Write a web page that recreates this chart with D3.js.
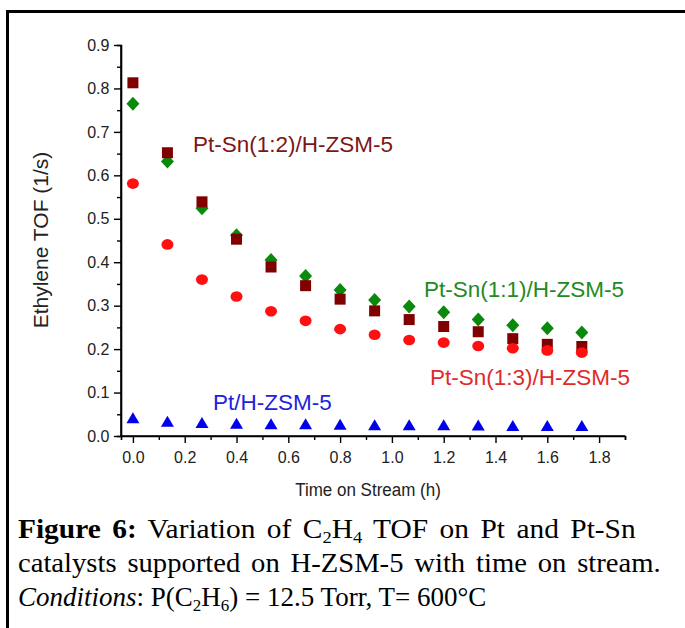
<!DOCTYPE html>
<html><head><meta charset="utf-8">
<script src="https://cdn.jsdelivr.net/npm/d3@7"></script>
<style>body{margin:0;background:#fff}</style>
</head><body>
<script>
const times = [0, 0.1333, 0.2667, 0.4, 0.5333, 0.6667, 0.8, 0.9333, 1.0667, 1.2, 1.3333, 1.4667, 1.6, 1.7333];
const ptSn12 = [0.813, 0.652, 0.539, 0.453, 0.389, 0.346, 0.315, 0.288, 0.268, 0.252, 0.240, 0.224, 0.211, 0.206];
const ptSn11 = [0.765, 0.632, 0.524, 0.462, 0.405, 0.368, 0.336, 0.313, 0.298, 0.285, 0.268, 0.255, 0.248, 0.238];
const ptSn13 = [0.581, 0.441, 0.360, 0.321, 0.287, 0.265, 0.246, 0.233, 0.221, 0.215, 0.207, 0.202, 0.197, 0.192];
const ptOnly = [0.041, 0.033, 0.030, 0.028, 0.027, 0.027, 0.026, 0.025, 0.025, 0.025, 0.024, 0.023, 0.023, 0.023];
const xTicks = [0, 0.2, 0.4, 0.6, 0.8, 1.0, 1.2, 1.4, 1.6, 1.8];
const yTicks = [0, 0.1, 0.2, 0.3, 0.4, 0.5, 0.6, 0.7, 0.8, 0.9];
const seriesNames = ["Pt-Sn(1:2)/H-ZSM-5", "Pt-Sn(1:1)/H-ZSM-5", "Pt-Sn(1:3)/H-ZSM-5", "Pt/H-ZSM-5"];

const W = 685, H = 628;
const svg = d3.select("body").append("svg").attr("width", W).attr("height", H);

svg.append("rect").attr("x", 7.5).attr("y", 11.5).attr("width", 720).attr("height", 700)
  .attr("fill", "none").attr("stroke", "#000").attr("stroke-width", 3);

const x = d3.scaleLinear().domain([-0.046, 1.9]).range([121, 625]);
const y = d3.scaleLinear().domain([0, 0.9]).range([436, 45]);

const font = "Arial, 'Liberation Sans', sans-serif";

// axes
const xAxisMinor = d3.axisBottom(x).tickValues(d3.range(0.1, 1.95, 0.2)).tickSize(4).tickFormat("");
const xAxis = d3.axisBottom(x).tickValues(xTicks).tickSize(7).tickFormat(d3.format(".1f"));
const gx = svg.append("g").attr("transform", "translate(0,436)");
gx.call(xAxis);
gx.append("g").call(xAxisMinor);
const yAxisMinor = d3.axisLeft(y).tickValues(d3.range(0.05, 0.9, 0.1)).tickSize(4).tickFormat("");
const yAxis = d3.axisLeft(y).tickValues(yTicks).tickSize(7).tickFormat(d3.format(".1f"));
const gy = svg.append("g").attr("transform", "translate(121,0)");
gy.call(yAxis);
gy.append("g").call(yAxisMinor);
svg.selectAll(".domain").attr("stroke", "#000").attr("stroke-width", 1.6);
svg.selectAll(".tick line").attr("stroke", "#000").attr("stroke-width", 1.4);
gx.selectAll(".tick text").attr("font-family", font).attr("font-size", 16).attr("fill", "#222").attr("dy", "1.05em");
gy.selectAll(".tick text").attr("font-family", font).attr("font-size", 16).attr("fill", "#222").attr("dx", "-0.1em");
gx.select(".domain").attr("d", `M121,0H${x(1.9)}`);
gy.select(".domain").attr("d", `M0,436V45`);

svg.append("text").attr("transform", "translate(368,496) scale(1,1.12)").attr("text-anchor", "middle")
  .attr("font-family", font).attr("font-size", 17).attr("fill", "#222").text("Time on Stream (h)");
svg.append("text").attr("transform", "translate(48,240) rotate(-90)").attr("text-anchor", "middle")
  .attr("font-family", font).attr("font-size", 21).attr("fill", "#222").text("Ethylene TOF (1/s)");

const pts = (vals) => times.map((t, i) => ({t, v: vals[i]}));

// green diamonds
svg.append("g").selectAll("path").data(pts(ptSn11)).join("path")
  .attr("transform", d => `translate(${x(d.t)},${y(d.v)})`)
  .attr("d", "M0,-7L6.5,0L0,7L-6.5,0Z").attr("fill", "#0a8a0a");
// dark red squares
svg.append("g").selectAll("rect").data(pts(ptSn12)).join("rect")
  .attr("x", d => x(d.t) - 5.5).attr("y", d => y(d.v) - 5.5).attr("width", 11).attr("height", 11)
  .attr("fill", "#800000");
// red circles
svg.append("g").selectAll("ellipse").data(pts(ptSn13)).join("ellipse")
  .attr("cx", d => x(d.t)).attr("cy", d => y(d.v)).attr("rx", 6).attr("ry", 5.3).attr("fill", "#ff1010");
// blue triangles
svg.append("g").selectAll("path").data(pts(ptOnly)).join("path")
  .attr("transform", d => `translate(${x(d.t)},${y(d.v)})`)
  .attr("d", "M0,-6L6.5,5L-6.5,5Z").attr("fill", "#0000ee");

// series labels
const labels = [
  {name: seriesNames[0], x: 193, y: 152, c: "#7a1717"},
  {name: seriesNames[1], x: 424, y: 297, c: "#238a23"},
  {name: seriesNames[2], x: 430, y: 385, c: "#e02a2a"},
  {name: seriesNames[3], x: 213, y: 410, c: "#2222dd"}
];
svg.append("g").selectAll("text").data(labels).join("text")
  .attr("x", d => d.x).attr("y", d => d.y).attr("fill", d => d.c)
  .attr("font-family", font).attr("font-size", 22.5).text(d => d.name);

// caption
const serif = "'Times New Roman', 'Liberation Serif', serif";
const cap = svg.append("g").attr("font-family", serif).attr("font-size", 27).attr("fill", "#000");
const l1 = cap.append("text").attr("x", 18).attr("y", 538);
l1.append("tspan").attr("font-weight", "bold").text("Figure 6:");
l1.append("tspan").text(" Variation of C");
l1.append("tspan").attr("font-size", 17).attr("dy", 5).text("2");
l1.append("tspan").attr("dy", -5).text("H");
l1.append("tspan").attr("font-size", 17).attr("dy", 5).text("4");
l1.append("tspan").attr("dy", -5).text(" TOF on Pt and Pt-Sn");
const l2 = cap.append("text").attr("x", 18).attr("y", 572).text("catalysts supported on H-ZSM-5 with time on stream.");
const l3 = cap.append("text").attr("x", 18).attr("y", 606);
l3.append("tspan").attr("font-style", "italic").text("Conditions");
l3.append("tspan").text(": P(C");
l3.append("tspan").attr("font-size", 17).attr("dy", 5).text("2");
l3.append("tspan").attr("dy", -5).text("H");
l3.append("tspan").attr("font-size", 17).attr("dy", 5).text("6");
l3.append("tspan").attr("dy", -5).text(") = 12.5 Torr, T= 600°C");

function stretch(sel, target, spaces) {
  const w = sel.node().getComputedTextLength();
  if (w >= target) return;
  // half of the extra width as word spacing, the rest as glyph widening
  const extra = target - w;
  sel.attr("word-spacing", extra * 0.4 / spaces);
  const w2 = sel.node().getComputedTextLength();
  const k = target / w2;
  const x0 = +sel.attr("x");
  sel.attr("transform", `translate(${x0},0) scale(${k},1) translate(${-x0},0)`);
}
stretch(l1, 618, 9);
stretch(l2, 643, 7);
</script>
</body></html>
